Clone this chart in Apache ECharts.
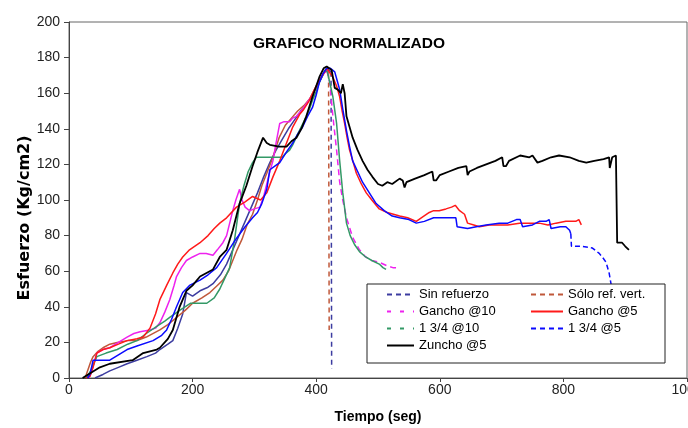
<!DOCTYPE html>
<html>
<head>
<meta charset="utf-8">
<script src="https://cdn.jsdelivr.net/npm/echarts@6/dist/echarts.min.js"></script>
<style>html,body{margin:0;padding:0;background:#fff;}#c{width:688px;height:428px;}</style>
</head>
<body>
<div id="c"></div>
<script>
const seriesNames = ['Sin refuerzo', 'Sólo ref. vert.', 'Gancho @10', 'Gancho @5', '1 3/4 @10', '1 3/4 @5', 'Zuncho @5'];
const xTicks = [0, 200, 400, 600, 800, 1000];
const yTicks = [0, 20, 40, 60, 80, 100, 120, 140, 160, 180, 200];

const sinRefuerzo = [[42,0],[45,0],[55,2],[66,4],[80,6],[94,8],[110,10],[126,12],[140,14],[147,16],[160,19],[168,21],[176,28],[184,36],[190,48],[200,46],[212,49],[225,51],[233,53],[245,58],[255,64],[265,72],[275,80],[285,88],[295,96],[305,104],[315,113],[325,121],[335,128],[345,134],[355,140],[365,145],[375,150],[385,154],[395,160],[405,166],[412,171],[417,174],[424,172]];
const sinRefuerzoDrop = [[424,172],[425,5]];

const soloRefVert = [[26,0],[29,3],[35,9],[39,12],[47,15],[55,17],[66,19],[78,20],[95,21],[110,21],[125,23],[147,27],[160,30],[174,34],[188,38],[200,42],[215,45],[228,48],[240,52],[249,55],[258,60],[265,66],[272,72],[280,78],[288,86],[297,92],[305,100],[312,108],[320,115],[330,124],[340,135],[350,142],[360,146],[370,150],[380,153],[390,157],[400,164],[410,170],[417,173],[420,171]];
const soloRefVertDrop = [[420,171],[421,27]];

const gancho10 = [[32,0],[36,3],[45,14],[55,16],[66,17],[80,20],[94,23],[105,25],[115,26],[131,27],[140,28],[147,31],[155,37],[163,44],[170,52],[174,57],[182,62],[190,66],[200,68],[212,70],[222,70],[233,69],[240,72],[249,76],[255,80],[265,94],[270,100],[276,106],[280,100],[285,96],[292,94],[300,95],[309,96],[315,102],[320,109],[325,116],[330,122],[335,132],[341,143],[348,144],[357,144],[362,146],[368,147],[378,151],[390,157],[400,163],[410,170],[417,173]];
const gancho10Tail = [[417,173],[422,166],[427,147],[433,128],[438,110],[443,100],[449,90],[459,79],[470,72],[480,68],[490,66],[502,65],[515,63],[524,62],[530,62]];

const gancho5 = [[28,0],[34,1],[39,6],[45,14],[55,16],[66,17],[80,19],[94,21],[110,22],[120,23],[131,28],[140,36],[147,44],[158,52],[168,59],[176,64],[184,68],[195,72],[212,76],[225,80],[235,84],[244,87],[255,90],[271,96],[285,99],[297,102],[310,100],[320,104],[330,113],[341,122],[352,132],[362,141],[373,148],[380,151],[389,156],[397,162],[405,167],[417,174],[427,169],[433,164],[438,158],[442,150],[446,143],[450,135],[454,128],[460,121],[465,115],[473,109],[481,104],[490,100],[502,95],[515,93],[535,91],[548,90],[562,88],[570,90],[583,93],[590,94],[599,94],[610,95],[619,96],[625,97],[632,94],[640,92],[643,91],[645,87],[655,86],[664,85],[680,86],[696,86],[710,86],[729,87],[745,87],[761,87],[775,86],[788,87],[804,88],[815,88],[820,88],[825,89],[829,86]];

const trescuartos10 = [[28,0],[35,4],[45,12],[60,14],[78,16],[95,19],[110,21],[125,25],[142,29],[155,32],[163,34],[179,38],[197,42],[207,42],[223,42],[235,45],[244,50],[252,56],[260,62],[268,78],[276,98],[283,108],[290,116],[297,121],[303,124],[315,124],[330,124],[345,124],[350,126],[357,128],[362,131],[370,137],[380,144],[388,150],[394,156],[400,161],[405,166],[414,173],[418,172],[422,166],[427,158],[433,143],[438,122],[443,104],[449,87],[455,80],[462,75],[470,71],[480,68],[490,66],[502,64],[508,62],[513,61]];

const trescuartos5 = [[30,0],[34,2],[39,10],[50,10],[66,10],[80,13],[94,16],[110,18],[136,21],[150,24],[158,27],[166,33],[174,40],[184,48],[195,52],[212,55],[225,58],[239,62],[255,70],[270,78],[285,85],[297,90],[305,93],[312,98],[320,106],[325,117],[333,119],[341,121],[352,127],[362,132],[370,137],[378,141],[386,147],[394,152],[400,159],[405,166],[411,171],[417,174],[423,174],[430,172],[434,167],[438,162],[443,151],[449,139],[454,130],[459,122],[467,116],[475,110],[486,104],[497,98],[510,94],[523,91],[535,90],[550,89],[562,87],[575,88],[590,90],[599,90],[615,90],[626,90],[628,85],[645,84],[659,85],[675,86],[696,87],[710,87],[724,89],[730,89],[734,85],[750,86],[761,88],[772,88],[777,89],[780,84],[782,85],[795,85],[804,85],[810,83],[812,81]];
const trescuartos5Tail = [[812,81],[813,74],[830,74],[847,73],[858,70],[865,67],[869,65],[874,59],[877,53],[880,44],[884,30],[886,20]];

const zuncho5 = [[22,0],[31,2],[50,6],[66,8],[103,10],[120,14],[142,16],[147,17],[160,22],[168,27],[179,40],[190,49],[200,52],[212,57],[233,61],[244,68],[255,72],[265,83],[276,98],[287,108],[297,119],[305,127],[314,135],[320,132],[325,131],[340,130],[352,130],[360,133],[368,135],[376,140],[384,147],[394,158],[405,169],[412,174],[417,175],[425,173],[430,163],[435,162],[440,160],[443,165],[446,160],[449,147],[459,135],[467,128],[475,122],[483,117],[491,113],[500,109],[507,108],[515,110],[523,109],[535,112],[540,111],[543,107],[546,110],[560,112],[575,114],[588,116],[590,111],[594,111],[600,114],[615,116],[630,118],[643,119],[645,114],[648,116],[660,118],[675,120],[690,122],[701,124],[703,119],[707,119],[712,122],[730,125],[745,124],[750,125],[758,121],[766,122],[780,124],[793,125],[810,124],[825,122],[837,121],[850,122],[865,123],[874,124],[875,118],[877,118],[879,124],[885,125],[887,76],[895,76],[900,74],[906,72]];

const colors = {
  'Sin refuerzo': '#3c3ca0',
  'Sólo ref. vert.': '#c0583a',
  'Gancho @10': '#ee22ee',
  'Gancho @5': '#ff1a1a',
  '1 3/4 @10': '#339966',
  '1 3/4 @5': '#0a0aff',
  'Zuncho @5': '#000000'
};

function mk(name, data, opts) {
  opts = opts || {};
  return {
    name: name,
    type: 'line',
    data: data,
    symbol: 'none',
    showSymbol: false,
    animation: false,
    color: opts.color || colors[name],
    lineStyle: { width: opts.width || 1.5, type: opts.type || 'solid', color: opts.color || colors[name] },
    z: opts.z || 2
  };
}

const chart = echarts.init(document.getElementById('c'));
const font = '"Liberation Sans", Arial, sans-serif';
const legendCommon = {
  orient: 'vertical', top: 288, padding: 0, itemGap: 4, itemHeight: 14,
  selectedMode: false, z: 60,
  itemStyle: { color: 'rgba(0,0,0,0)', borderColor: 'rgba(0,0,0,0)', borderWidth: 0, opacity: 0 },
  textStyle: { fontSize: 13, color: '#000', fontFamily: font }
};

chart.setOption({
  animation: false,
  backgroundColor: '#fff',
  title: {
    text: 'GRAFICO NORMALIZADO', left: 253, top: 36, padding: 0,
    textStyle: { fontSize: 15.5, fontWeight: 'bold', color: '#000', fontFamily: font }
  },
  grid: { left: 69, right: 1, top: 22, bottom: 50, show: true, borderColor: '#666', borderWidth: 1, backgroundColor: 'transparent', outerBoundsMode: 'none', containLabel: false },
  xAxis: {
    type: 'value', min: xTicks[0], max: xTicks[xTicks.length - 1], interval: 200,
    name: 'Tiempo (seg)', nameLocation: 'middle', nameGap: 32,
    nameTextStyle: { fontSize: 14, fontWeight: 'bold', color: '#000', fontFamily: font },
    axisLine: { lineStyle: { color: '#444' } },
    axisTick: { length: 4, lineStyle: { color: '#444' } },
    axisLabel: { fontSize: 14, color: '#222', margin: 5, fontFamily: font, showMaxLabel: true, formatter: function (v) { return String(v); } },
    splitLine: { show: false }
  },
  yAxis: {
    type: 'value', min: yTicks[0], max: yTicks[yTicks.length - 1], interval: 20,
    axisLine: { show: true, lineStyle: { color: '#444' } },
    axisTick: { show: true, length: 5, lineStyle: { color: '#444' } },
    axisLabel: { fontSize: 14, color: '#222', margin: 9, fontFamily: font, formatter: function (v) { return String(v); } },
    splitLine: { show: false }
  },
  legend: [
    Object.assign({}, legendCommon, {
      left: 386, itemWidth: 27,
      data: [
        { name: 'Sin refuerzo', lineStyle: { type: [5, 4] } },
        { name: 'Gancho @10', lineStyle: { type: [4, 9] } },
        { name: '1 3/4 @10', lineStyle: { type: [4, 9] } },
        { name: 'Zuncho @5' }
      ]
    }),
    Object.assign({}, legendCommon, {
      left: 530, itemWidth: 32,
      data: [
        { name: 'Sólo ref. vert.', lineStyle: { type: [5, 4] } },
        { name: 'Gancho @5' },
        { name: '1 3/4 @5', lineStyle: { type: [5, 4] } }
      ]
    })
  ],
  graphic: [
    { type: 'rect', z: 50, shape: { x: 367, y: 284, width: 298, height: 79 },
      style: { fill: '#fff', stroke: '#222', lineWidth: 1 } },
    { type: 'text', z: 50, x: 25, y: 218, rotation: Math.PI / 2,
      style: { text: 'Esfuerzo (Kg/cm2)', fill: '#000', font: 'bold 16px "DejaVu Sans", sans-serif', textAlign: 'center', verticalAlign: 'middle', textVerticalAlign: 'middle' } }
  ],
  series: [
    mk('Sin refuerzo', sinRefuerzo),
    mk('Sin refuerzo-drop', sinRefuerzoDrop, { color: colors['Sin refuerzo'], type: [5, 4] }),
    mk('Sólo ref. vert.', soloRefVert),
    mk('Sólo ref. vert.-drop', soloRefVertDrop, { color: colors['Sólo ref. vert.'], type: [5, 4] }),
    mk('Gancho @10', gancho10),
    mk('Gancho @10-tail', gancho10Tail, { color: colors['Gancho @10'], type: [6, 4] }),
    mk('1 3/4 @10', trescuartos10),
    mk('Gancho @5', gancho5),
    mk('1 3/4 @5', trescuartos5),
    mk('1 3/4 @5-tail', trescuartos5Tail, { color: colors['1 3/4 @5'], type: [5, 3] }),
    mk('Zuncho @5', zuncho5, { width: 1.8, z: 3 })
  ]
});
</script>
</body>
</html>
